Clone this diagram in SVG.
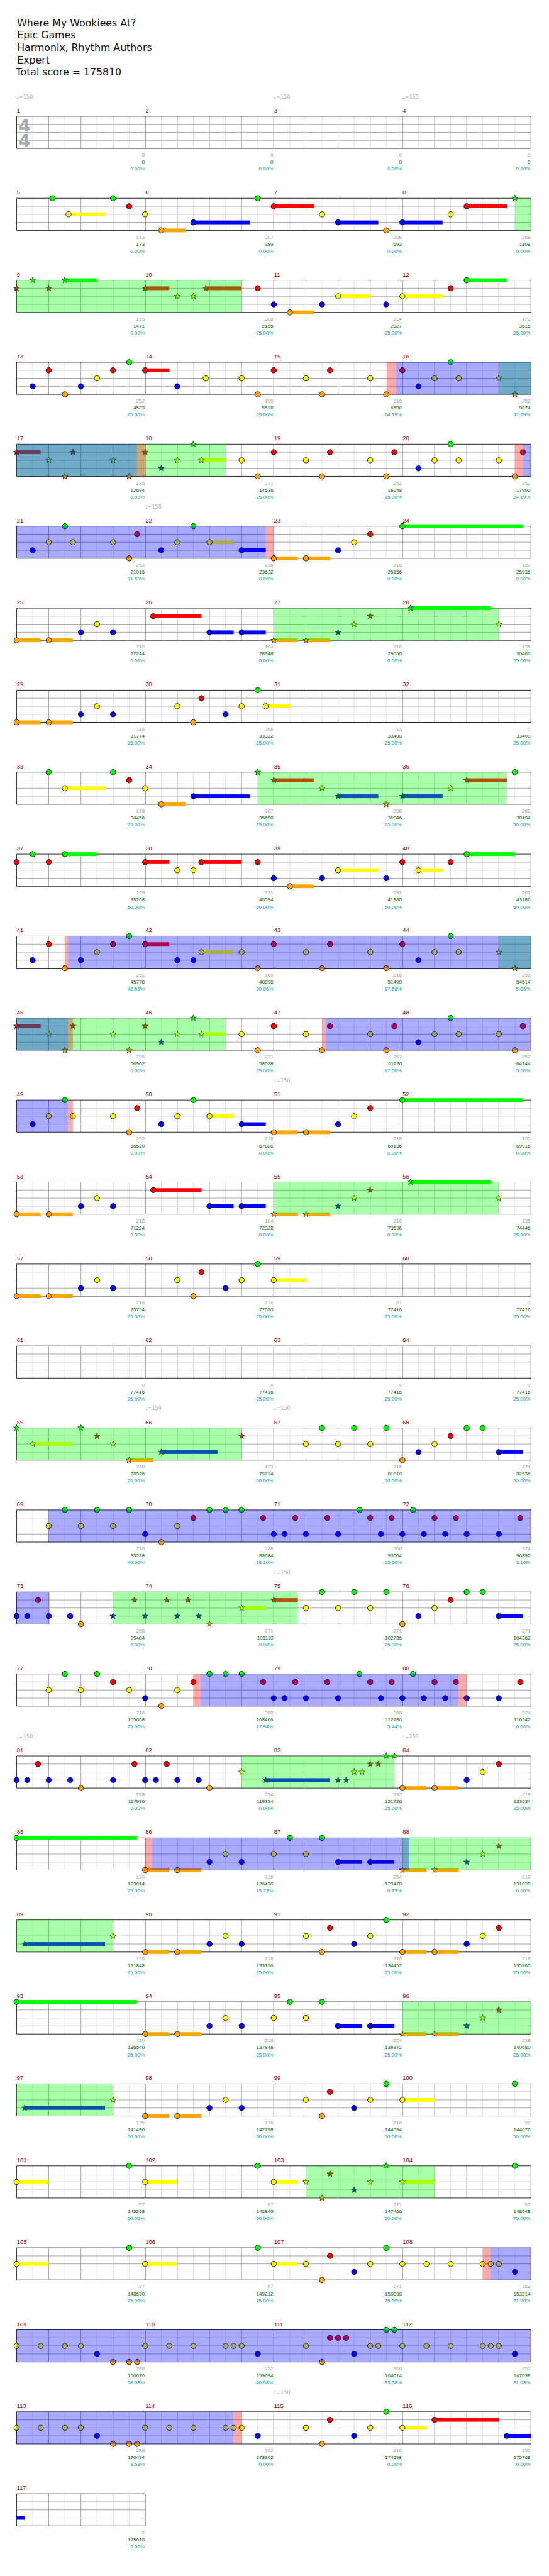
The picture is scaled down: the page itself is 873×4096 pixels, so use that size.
<svg xmlns="http://www.w3.org/2000/svg" width="873" height="4096" viewBox="0 0 873 4096">
<style>
text{font-family:"DejaVu Sans","Liberation Sans",sans-serif}
.h{font-size:18.5px;fill:#111}
.n{font-size:11px;fill:#900;font-family:"Liberation Sans",sans-serif}
.a,.b,.c{font-size:9.5px;text-anchor:end;font-family:"Liberation Sans",sans-serif}
.a{fill:#a0a0a0}.b{fill:#006400}.c{fill:#009b9b}
.t{font-size:9.5px;fill:#aaa}
.ts{font-size:31px;font-weight:bold;fill:#aaa}
.od{fill:#0f0;fill-opacity:.333}
.so{fill:#00f;fill-opacity:.333}
.rd{fill:#f00;fill-opacity:.333}
.kG{fill:#0f0}.kR{fill:#f00}.kY{fill:#ff0}.kB{fill:#00f}.kO{fill:#ffa500}
</style>
<defs>
<g id="ms">
<path d="M30 0V60M90 0V60M150 0V60M210 0V60" stroke="#ddd"/>
<path d="M60 0V60M120 0V60M180 0V60M0 15H240M0 30H240M0 45H240" stroke="#999"/>
<path d="M0 0H240M0 60H240M0 0V60" stroke="#000"/>
</g>
<g id="st4"><use href="#ms" x="31"/><use href="#ms" x="271"/><use href="#ms" x="511"/><use href="#ms" x="751"/><path d="M991 0V60" stroke="#000"/></g>
<circle id="G" r="5" fill="#0f0" stroke="#000"/>
<circle id="R" r="5" fill="#f00" stroke="#000"/>
<circle id="Y" r="5" fill="#ff0" stroke="#000"/>
<circle id="B" r="5" fill="#00f" stroke="#000"/>
<circle id="O" r="5" fill="#ffa500" stroke="#000"/>
<path id="st" d="M0-6L1.5-2 5.7-1.9 2.4.8 3.5 4.9 0 2.5-3.5 4.9-2.4.8-5.7-1.9-1.5-2Z" stroke="#000" stroke-width=".8"/>
<use id="sG" href="#st" fill="#0f0"/>
<use id="sR" href="#st" fill="#f00"/>
<use id="sY" href="#st" fill="#ff0"/>
<use id="sB" href="#st" fill="#00f"/>
<use id="sO" href="#st" fill="#ffa500"/>
</defs>
<g transform="scale(0.852)">
<rect x="0" y="0" width="1024" height="4807" fill="#fff"/>
<g id="header">
<text class="h" x="32" y="49">Where My Wookiees At?</text>
<text class="h" x="32" y="72">Epic Games</text>
<text class="h" x="32" y="95">Harmonix, Rhythm Authors</text>
<text class="h" x="32" y="118">Expert</text>
<text class="h" x="30" y="141">Total score = 175810</text>
</g>

<g id="row-1-4" transform="translate(0,217)">
<use href="#st4"/>
<text class="ts" x="35" y="28">4</text><text class="ts" x="35" y="57">4</text>
<text class="t" x="31" y="-33">♩=150</text><text class="t" x="511" y="-33">♩=150</text><text class="t" x="751" y="-33">♩=150</text>
<text class="n" x="31.5" y="-7">1</text><text class="n" x="271.5" y="-7">2</text><text class="n" x="511.5" y="-7">3</text><text class="n" x="751.5" y="-7">4</text>
<text class="a" x="270" y="75.5">0</text><text class="b" x="270" y="88.5">0</text><text class="c" x="270" y="101.5">0.00%</text>
<text class="a" x="510" y="75.5">0</text><text class="b" x="510" y="88.5">0</text><text class="c" x="510" y="101.5">0.00%</text>
<text class="a" x="750" y="75.5">0</text><text class="b" x="750" y="88.5">0</text><text class="c" x="750" y="101.5">0.00%</text>
<text class="a" x="990" y="75.5">0</text><text class="b" x="990" y="88.5">0</text><text class="c" x="990" y="101.5">0.00%</text>
</g>

<g id="row-5-8" transform="translate(0,370)">
<use href="#st4"/>
<rect class="kY" x="128" y="26.5" width="68" height="7"/><rect class="kO" x="301" y="56.5" width="45" height="7"/><rect class="kB" x="361" y="41.5" width="105" height="7"/><rect class="kR" x="511" y="11.5" width="75" height="7"/><rect class="kB" x="631" y="41.5" width="75" height="7"/><rect class="kB" x="751" y="41.5" width="75" height="7"/><rect class="kR" x="871" y="11.5" width="75" height="7"/>
<use href="#G" x="98" y="0"/><use href="#Y" x="128" y="30"/><use href="#G" x="211" y="0"/><use href="#R" x="241" y="15"/><use href="#Y" x="271" y="30"/><use href="#O" x="301" y="60"/><use href="#B" x="361" y="45"/><use href="#G" x="481" y="0"/><use href="#R" x="511" y="15"/><use href="#Y" x="601" y="30"/><use href="#B" x="631" y="45"/><use href="#O" x="721" y="60"/><use href="#B" x="751" y="45"/><use href="#Y" x="841" y="30"/><use href="#R" x="871" y="15"/><use href="#sG" x="961" y="0"/>
<rect class="od" x="961" y="0" width="30" height="60"/>
<text class="n" x="31.5" y="-7">5</text><text class="n" x="271.5" y="-7">6</text><text class="n" x="511.5" y="-7">7</text><text class="n" x="751.5" y="-7">8</text>
<text class="a" x="270" y="75.5">173</text><text class="b" x="270" y="88.5">173</text><text class="c" x="270" y="101.5">0.00%</text>
<text class="a" x="510" y="75.5">207</text><text class="b" x="510" y="88.5">380</text><text class="c" x="510" y="101.5">0.00%</text>
<text class="a" x="750" y="75.5">208</text><text class="b" x="750" y="88.5">692</text><text class="c" x="750" y="101.5">0.00%</text>
<text class="a" x="990" y="75.5">208</text><text class="b" x="990" y="88.5">1108</text><text class="c" x="990" y="101.5">0.00%</text>
</g>

<g id="row-9-12" transform="translate(0,523)">
<use href="#st4"/>
<rect class="kG" x="121" y="-3.5" width="60" height="7"/><rect class="kR" x="271" y="11.5" width="45" height="7"/><rect class="kR" x="384" y="11.5" width="67" height="7"/><rect class="kO" x="541" y="56.5" width="45" height="7"/><rect class="kY" x="631" y="26.5" width="60" height="7"/><rect class="kY" x="751" y="26.5" width="75" height="7"/><rect class="kG" x="871" y="-3.5" width="75" height="7"/>
<use href="#sR" x="31" y="15"/><use href="#sG" x="61" y="0"/><use href="#sR" x="91" y="15"/><use href="#sG" x="121" y="0"/><use href="#sR" x="271" y="15"/><use href="#sY" x="331" y="30"/><use href="#sY" x="361" y="30"/><use href="#sR" x="384" y="15"/><use href="#R" x="481" y="15"/><use href="#B" x="511" y="45"/><use href="#O" x="541" y="60"/><use href="#B" x="601" y="45"/><use href="#Y" x="631" y="30"/><use href="#B" x="721" y="45"/><use href="#Y" x="751" y="30"/><use href="#R" x="841" y="15"/><use href="#G" x="871" y="0"/>
<rect class="od" x="31" y="0" width="420" height="60"/>
<text class="n" x="31.5" y="-7">9</text><text class="n" x="271.5" y="-7">10</text><text class="n" x="511.5" y="-7">11</text><text class="n" x="751.5" y="-7">12</text>
<text class="a" x="270" y="75.5">169</text><text class="b" x="270" y="88.5">1471</text><text class="c" x="270" y="101.5">0.00%</text>
<text class="a" x="510" y="75.5">228</text><text class="b" x="510" y="88.5">2155</text><text class="c" x="510" y="101.5">25.00%</text>
<text class="a" x="750" y="75.5">224</text><text class="b" x="750" y="88.5">2827</text><text class="c" x="750" y="101.5">25.00%</text>
<text class="a" x="990" y="75.5">172</text><text class="b" x="990" y="88.5">3515</text><text class="c" x="990" y="101.5">25.00%</text>
</g>

<g id="row-13-16" transform="translate(0,676)">
<use href="#st4"/>
<rect class="kR" x="271" y="11.5" width="45" height="7"/>
<use href="#B" x="61" y="45"/><use href="#R" x="91" y="15"/><use href="#O" x="121" y="60"/><use href="#B" x="151" y="45"/><use href="#Y" x="181" y="30"/><use href="#R" x="211" y="15"/><use href="#G" x="241" y="0"/><use href="#R" x="271" y="15"/><use href="#B" x="331" y="45"/><use href="#Y" x="384" y="30"/><use href="#Y" x="451" y="30"/><use href="#O" x="481" y="60"/><use href="#R" x="511" y="15"/><use href="#Y" x="571" y="30"/><use href="#O" x="601" y="60"/><use href="#R" x="616" y="15"/><use href="#Y" x="691" y="30"/><use href="#O" x="721" y="60"/><use href="#R" x="751" y="15"/><use href="#B" x="781" y="45"/><use href="#Y" x="811" y="30"/><use href="#G" x="841" y="0"/><use href="#Y" x="856" y="30"/><use href="#sY" x="931" y="30"/><use href="#sO" x="961" y="60"/>
<rect class="od" x="931" y="0" width="60" height="60"/><rect class="so" x="739" y="0" width="252" height="60"/><rect class="rd" x="723" y="0" width="16" height="60"/>
<text class="n" x="31.5" y="-7">13</text><text class="n" x="271.5" y="-7">14</text><text class="n" x="511.5" y="-7">15</text><text class="n" x="751.5" y="-7">16</text>
<text class="a" x="270" y="75.5">252</text><text class="b" x="270" y="88.5">4523</text><text class="c" x="270" y="101.5">25.00%</text>
<text class="a" x="510" y="75.5">199</text><text class="b" x="510" y="88.5">5518</text><text class="c" x="510" y="101.5">25.00%</text>
<text class="a" x="750" y="75.5">216</text><text class="b" x="750" y="88.5">6598</text><text class="c" x="750" y="101.5">24.19%</text>
<text class="a" x="990" y="75.5">252</text><text class="b" x="990" y="88.5">9874</text><text class="c" x="990" y="101.5">11.69%</text>
</g>

<g id="row-17-20" transform="translate(0,829)">
<use href="#st4"/>
<rect class="kR" x="31" y="11.5" width="45" height="7"/><rect class="kY" x="376" y="26.5" width="45" height="7"/>
<use href="#sR" x="31" y="15"/><use href="#sY" x="91" y="30"/><use href="#sO" x="121" y="60"/><use href="#sR" x="136" y="15"/><use href="#sY" x="211" y="30"/><use href="#sO" x="241" y="60"/><use href="#sR" x="271" y="15"/><use href="#sB" x="301" y="45"/><use href="#sY" x="331" y="30"/><use href="#sG" x="361" y="0"/><use href="#sY" x="376" y="30"/><use href="#Y" x="451" y="30"/><use href="#O" x="481" y="60"/><use href="#R" x="511" y="15"/><use href="#Y" x="571" y="30"/><use href="#O" x="601" y="60"/><use href="#R" x="616" y="15"/><use href="#Y" x="691" y="30"/><use href="#O" x="721" y="60"/><use href="#R" x="736" y="15"/><use href="#B" x="781" y="45"/><use href="#Y" x="811" y="30"/><use href="#G" x="841" y="0"/><use href="#Y" x="856" y="30"/><use href="#Y" x="931" y="30"/><use href="#O" x="961" y="60"/><use href="#R" x="976" y="15"/>
<rect class="od" x="31" y="0" width="390" height="60"/><rect class="so" x="31" y="0" width="225" height="60"/><rect class="rd" x="256" y="0" width="15" height="60"/><rect class="rd" x="961" y="0" width="15" height="60"/><rect class="so" x="976" y="0" width="15" height="60"/>
<text class="n" x="31.5" y="-7">17</text><text class="n" x="271.5" y="-7">18</text><text class="n" x="511.5" y="-7">19</text><text class="n" x="751.5" y="-7">20</text>
<text class="a" x="270" y="75.5">235</text><text class="b" x="270" y="88.5">12694</text><text class="c" x="270" y="101.5">0.00%</text>
<text class="a" x="510" y="75.5">271</text><text class="b" x="510" y="88.5">14536</text><text class="c" x="510" y="101.5">25.00%</text>
<text class="a" x="750" y="75.5">252</text><text class="b" x="750" y="88.5">16048</text><text class="c" x="750" y="101.5">25.00%</text>
<text class="a" x="990" y="75.5">252</text><text class="b" x="990" y="88.5">17992</text><text class="c" x="990" y="101.5">24.19%</text>
</g>

<g id="row-21-24" transform="translate(0,982)">
<use href="#st4"/>
<text class="t" x="271" y="-33">♩=150</text>
<rect class="kY" x="391" y="26.5" width="45" height="7"/><rect class="kB" x="451" y="41.5" width="45" height="7"/><rect class="kO" x="511" y="56.5" width="45" height="7"/><rect class="kO" x="571" y="56.5" width="45" height="7"/><rect class="kG" x="751" y="-3.5" width="225" height="7"/>
<use href="#B" x="61" y="45"/><use href="#Y" x="91" y="30"/><use href="#G" x="121" y="0"/><use href="#Y" x="136" y="30"/><use href="#Y" x="211" y="30"/><use href="#O" x="241" y="60"/><use href="#R" x="256" y="15"/><use href="#B" x="301" y="45"/><use href="#Y" x="331" y="30"/><use href="#G" x="361" y="0"/><use href="#Y" x="391" y="30"/><use href="#B" x="451" y="45"/><use href="#O" x="511" y="60"/><use href="#O" x="571" y="60"/><use href="#B" x="631" y="45"/><use href="#Y" x="661" y="30"/><use href="#R" x="691" y="15"/><use href="#G" x="751" y="0"/>
<rect class="so" x="31" y="0" width="465" height="60"/><rect class="rd" x="496" y="0" width="15" height="60"/>
<text class="n" x="31.5" y="-7">21</text><text class="n" x="271.5" y="-7">22</text><text class="n" x="511.5" y="-7">23</text><text class="n" x="751.5" y="-7">24</text>
<text class="a" x="270" y="75.5">252</text><text class="b" x="270" y="88.5">21016</text><text class="c" x="270" y="101.5">11.69%</text>
<text class="a" x="510" y="75.5">218</text><text class="b" x="510" y="88.5">23632</text><text class="c" x="510" y="101.5">0.00%</text>
<text class="a" x="750" y="75.5">218</text><text class="b" x="750" y="88.5">25156</text><text class="c" x="750" y="101.5">0.00%</text>
<text class="a" x="990" y="75.5">130</text><text class="b" x="990" y="88.5">25936</text><text class="c" x="990" y="101.5">0.00%</text>
</g>

<g id="row-25-28" transform="translate(0,1135)">
<use href="#st4"/>
<rect class="kO" x="31" y="56.5" width="45" height="7"/><rect class="kO" x="91" y="56.5" width="45" height="7"/><rect class="kR" x="286" y="11.5" width="90" height="7"/><rect class="kB" x="391" y="41.5" width="45" height="7"/><rect class="kB" x="451" y="41.5" width="45" height="7"/><rect class="kO" x="511" y="56.5" width="45" height="7"/><rect class="kO" x="571" y="56.5" width="45" height="7"/><rect class="kG" x="766" y="-3.5" width="150" height="7"/>
<use href="#O" x="31" y="60"/><use href="#O" x="91" y="60"/><use href="#B" x="151" y="45"/><use href="#Y" x="181" y="30"/><use href="#B" x="211" y="45"/><use href="#R" x="286" y="15"/><use href="#B" x="391" y="45"/><use href="#B" x="451" y="45"/><use href="#sO" x="511" y="60"/><use href="#sO" x="571" y="60"/><use href="#sB" x="631" y="45"/><use href="#sY" x="661" y="30"/><use href="#sR" x="691" y="15"/><use href="#sG" x="766" y="0"/><use href="#sY" x="931" y="30"/>
<rect class="od" x="511" y="0" width="420" height="60"/>
<text class="n" x="31.5" y="-7">25</text><text class="n" x="271.5" y="-7">26</text><text class="n" x="511.5" y="-7">27</text><text class="n" x="751.5" y="-7">28</text>
<text class="a" x="270" y="75.5">218</text><text class="b" x="270" y="88.5">27244</text><text class="c" x="270" y="101.5">0.00%</text>
<text class="a" x="510" y="75.5">184</text><text class="b" x="510" y="88.5">28348</text><text class="c" x="510" y="101.5">0.00%</text>
<text class="a" x="750" y="75.5">218</text><text class="b" x="750" y="88.5">29656</text><text class="c" x="750" y="101.5">0.00%</text>
<text class="a" x="990" y="75.5">135</text><text class="b" x="990" y="88.5">30466</text><text class="c" x="990" y="101.5">25.00%</text>
</g>

<g id="row-29-32" transform="translate(0,1288)">
<use href="#st4"/>
<rect class="kO" x="31" y="56.5" width="45" height="7"/><rect class="kO" x="91" y="56.5" width="45" height="7"/><rect class="kY" x="496" y="26.5" width="45" height="7"/>
<use href="#O" x="31" y="60"/><use href="#O" x="91" y="60"/><use href="#B" x="151" y="45"/><use href="#Y" x="181" y="30"/><use href="#B" x="211" y="45"/><use href="#Y" x="331" y="30"/><use href="#O" x="361" y="60"/><use href="#R" x="376" y="15"/><use href="#B" x="421" y="45"/><use href="#Y" x="451" y="30"/><use href="#G" x="481" y="0"/><use href="#Y" x="496" y="30"/>
<text class="n" x="31.5" y="-7">29</text><text class="n" x="271.5" y="-7">30</text><text class="n" x="511.5" y="-7">31</text><text class="n" x="751.5" y="-7">32</text>
<text class="a" x="270" y="75.5">218</text><text class="b" x="270" y="88.5">31774</text><text class="c" x="270" y="101.5">25.00%</text>
<text class="a" x="510" y="75.5">258</text><text class="b" x="510" y="88.5">33322</text><text class="c" x="510" y="101.5">25.00%</text>
<text class="a" x="750" y="75.5">13</text><text class="b" x="750" y="88.5">33400</text><text class="c" x="750" y="101.5">25.00%</text>
<text class="a" x="990" y="75.5">0</text><text class="b" x="990" y="88.5">33400</text><text class="c" x="990" y="101.5">25.00%</text>
</g>

<g id="row-33-36" transform="translate(0,1441)">
<use href="#st4"/>
<rect class="kY" x="121" y="26.5" width="75" height="7"/><rect class="kO" x="301" y="56.5" width="45" height="7"/><rect class="kB" x="361" y="41.5" width="105" height="7"/><rect class="kR" x="511" y="11.5" width="75" height="7"/><rect class="kB" x="631" y="41.5" width="75" height="7"/><rect class="kB" x="751" y="41.5" width="75" height="7"/><rect class="kR" x="871" y="11.5" width="75" height="7"/>
<use href="#G" x="91" y="0"/><use href="#Y" x="121" y="30"/><use href="#G" x="211" y="0"/><use href="#R" x="241" y="15"/><use href="#Y" x="271" y="30"/><use href="#O" x="301" y="60"/><use href="#B" x="361" y="45"/><use href="#sG" x="481" y="0"/><use href="#sR" x="511" y="15"/><use href="#sY" x="601" y="30"/><use href="#sB" x="631" y="45"/><use href="#sO" x="721" y="60"/><use href="#sB" x="751" y="45"/><use href="#sY" x="841" y="30"/><use href="#sR" x="871" y="15"/><use href="#G" x="961" y="0"/>
<rect class="od" x="481" y="0" width="465" height="60"/>
<text class="n" x="31.5" y="-7">33</text><text class="n" x="271.5" y="-7">34</text><text class="n" x="511.5" y="-7">35</text><text class="n" x="751.5" y="-7">36</text>
<text class="a" x="270" y="75.5">176</text><text class="b" x="270" y="88.5">34456</text><text class="c" x="270" y="101.5">25.00%</text>
<text class="a" x="510" y="75.5">207</text><text class="b" x="510" y="88.5">35698</text><text class="c" x="510" y="101.5">25.00%</text>
<text class="a" x="750" y="75.5">208</text><text class="b" x="750" y="88.5">36946</text><text class="c" x="750" y="101.5">25.00%</text>
<text class="a" x="990" y="75.5">208</text><text class="b" x="990" y="88.5">38194</text><text class="c" x="990" y="101.5">50.00%</text>
</g>

<g id="row-37-40" transform="translate(0,1594)">
<use href="#st4"/>
<rect class="kG" x="121" y="-3.5" width="60" height="7"/><rect class="kR" x="271" y="11.5" width="45" height="7"/><rect class="kR" x="376" y="11.5" width="75" height="7"/><rect class="kO" x="541" y="56.5" width="45" height="7"/><rect class="kY" x="631" y="26.5" width="75" height="7"/><rect class="kY" x="781" y="26.5" width="45" height="7"/><rect class="kG" x="871" y="-3.5" width="90" height="7"/>
<use href="#R" x="31" y="15"/><use href="#G" x="61" y="0"/><use href="#R" x="91" y="15"/><use href="#G" x="121" y="0"/><use href="#R" x="271" y="15"/><use href="#Y" x="331" y="30"/><use href="#Y" x="361" y="30"/><use href="#R" x="376" y="15"/><use href="#R" x="481" y="15"/><use href="#B" x="511" y="45"/><use href="#O" x="541" y="60"/><use href="#B" x="601" y="45"/><use href="#Y" x="631" y="30"/><use href="#B" x="721" y="45"/><use href="#R" x="751" y="15"/><use href="#Y" x="781" y="30"/><use href="#R" x="841" y="15"/><use href="#G" x="871" y="0"/>
<text class="n" x="31.5" y="-7">37</text><text class="n" x="271.5" y="-7">38</text><text class="n" x="511.5" y="-7">39</text><text class="n" x="751.5" y="-7">40</text>
<text class="a" x="270" y="75.5">169</text><text class="b" x="270" y="88.5">39208</text><text class="c" x="270" y="101.5">50.00%</text>
<text class="a" x="510" y="75.5">231</text><text class="b" x="510" y="88.5">40594</text><text class="c" x="510" y="101.5">50.00%</text>
<text class="a" x="750" y="75.5">231</text><text class="b" x="750" y="88.5">41980</text><text class="c" x="750" y="101.5">50.00%</text>
<text class="a" x="990" y="75.5">201</text><text class="b" x="990" y="88.5">43186</text><text class="c" x="990" y="101.5">50.00%</text>
</g>

<g id="row-41-44" transform="translate(0,1747)">
<use href="#st4"/>
<rect class="kR" x="271" y="11.5" width="45" height="7"/><rect class="kY" x="376" y="26.5" width="60" height="7"/>
<use href="#B" x="61" y="45"/><use href="#R" x="91" y="15"/><use href="#O" x="121" y="60"/><use href="#B" x="151" y="45"/><use href="#Y" x="181" y="30"/><use href="#R" x="211" y="15"/><use href="#G" x="241" y="0"/><use href="#R" x="271" y="15"/><use href="#B" x="331" y="45"/><use href="#B" x="361" y="45"/><use href="#Y" x="376" y="30"/><use href="#Y" x="451" y="30"/><use href="#O" x="481" y="60"/><use href="#R" x="511" y="15"/><use href="#Y" x="571" y="30"/><use href="#O" x="601" y="60"/><use href="#R" x="616" y="15"/><use href="#Y" x="691" y="30"/><use href="#O" x="721" y="60"/><use href="#R" x="751" y="15"/><use href="#B" x="781" y="45"/><use href="#Y" x="811" y="30"/><use href="#G" x="841" y="0"/><use href="#Y" x="856" y="30"/><use href="#sY" x="931" y="30"/><use href="#sO" x="961" y="60"/>
<rect class="od" x="931" y="0" width="60" height="60"/><rect class="so" x="127" y="0" width="864" height="60"/><rect class="rd" x="121" y="0" width="6" height="60"/>
<text class="n" x="31.5" y="-7">41</text><text class="n" x="271.5" y="-7">42</text><text class="n" x="511.5" y="-7">43</text><text class="n" x="751.5" y="-7">44</text>
<text class="a" x="270" y="75.5">252</text><text class="b" x="270" y="88.5">45778</text><text class="c" x="270" y="101.5">42.56%</text>
<text class="a" x="510" y="75.5">260</text><text class="b" x="510" y="88.5">48898</text><text class="c" x="510" y="101.5">30.06%</text>
<text class="a" x="750" y="75.5">216</text><text class="b" x="750" y="88.5">51490</text><text class="c" x="750" y="101.5">17.56%</text>
<text class="a" x="990" y="75.5">252</text><text class="b" x="990" y="88.5">54514</text><text class="c" x="990" y="101.5">5.06%</text>
</g>

<g id="row-45-48" transform="translate(0,1900)">
<use href="#st4"/>
<rect class="kR" x="31" y="11.5" width="45" height="7"/><rect class="kY" x="376" y="26.5" width="45" height="7"/>
<use href="#sR" x="31" y="15"/><use href="#sY" x="91" y="30"/><use href="#sO" x="121" y="60"/><use href="#sR" x="136" y="15"/><use href="#sY" x="211" y="30"/><use href="#sO" x="241" y="60"/><use href="#sR" x="271" y="15"/><use href="#sB" x="301" y="45"/><use href="#sY" x="331" y="30"/><use href="#sG" x="361" y="0"/><use href="#sY" x="376" y="30"/><use href="#Y" x="451" y="30"/><use href="#O" x="481" y="60"/><use href="#R" x="511" y="15"/><use href="#Y" x="571" y="30"/><use href="#O" x="601" y="60"/><use href="#R" x="616" y="15"/><use href="#Y" x="691" y="30"/><use href="#O" x="721" y="60"/><use href="#R" x="736" y="15"/><use href="#B" x="781" y="45"/><use href="#Y" x="811" y="30"/><use href="#G" x="841" y="0"/><use href="#Y" x="856" y="30"/><use href="#Y" x="931" y="30"/><use href="#O" x="961" y="60"/><use href="#R" x="976" y="15"/>
<rect class="od" x="31" y="0" width="390" height="60"/><rect class="so" x="31" y="0" width="96" height="60"/><rect class="rd" x="127" y="0" width="9" height="60"/><rect class="rd" x="601" y="0" width="7" height="60"/><rect class="so" x="608" y="0" width="383" height="60"/>
<text class="n" x="31.5" y="-7">45</text><text class="n" x="271.5" y="-7">46</text><text class="n" x="511.5" y="-7">47</text><text class="n" x="751.5" y="-7">48</text>
<text class="a" x="270" y="75.5">235</text><text class="b" x="270" y="88.5">56902</text><text class="c" x="270" y="101.5">0.00%</text>
<text class="a" x="510" y="75.5">271</text><text class="b" x="510" y="88.5">58528</text><text class="c" x="510" y="101.5">25.00%</text>
<text class="a" x="750" y="75.5">252</text><text class="b" x="750" y="88.5">61120</text><text class="c" x="750" y="101.5">17.56%</text>
<text class="a" x="990" y="75.5">252</text><text class="b" x="990" y="88.5">64144</text><text class="c" x="990" y="101.5">5.06%</text>
</g>

<g id="row-49-52" transform="translate(0,2053)">
<use href="#st4"/>
<text class="t" x="511" y="-33">♩=150</text>
<rect class="kY" x="391" y="26.5" width="45" height="7"/><rect class="kB" x="451" y="41.5" width="45" height="7"/><rect class="kO" x="511" y="56.5" width="45" height="7"/><rect class="kO" x="571" y="56.5" width="45" height="7"/><rect class="kG" x="751" y="-3.5" width="225" height="7"/>
<use href="#B" x="61" y="45"/><use href="#Y" x="91" y="30"/><use href="#G" x="121" y="0"/><use href="#Y" x="136" y="30"/><use href="#Y" x="211" y="30"/><use href="#O" x="241" y="60"/><use href="#R" x="256" y="15"/><use href="#B" x="301" y="45"/><use href="#Y" x="331" y="30"/><use href="#G" x="361" y="0"/><use href="#Y" x="391" y="30"/><use href="#B" x="451" y="45"/><use href="#O" x="511" y="60"/><use href="#O" x="571" y="60"/><use href="#B" x="631" y="45"/><use href="#Y" x="661" y="30"/><use href="#R" x="691" y="15"/><use href="#G" x="751" y="0"/>
<rect class="so" x="31" y="0" width="96" height="60"/><rect class="rd" x="127" y="0" width="9" height="60"/>
<text class="n" x="31.5" y="-7">49</text><text class="n" x="271.5" y="-7">50</text><text class="n" x="511.5" y="-7">51</text><text class="n" x="751.5" y="-7">52</text>
<text class="a" x="270" y="75.5">252</text><text class="b" x="270" y="88.5">66520</text><text class="c" x="270" y="101.5">0.00%</text>
<text class="a" x="510" y="75.5">218</text><text class="b" x="510" y="88.5">67828</text><text class="c" x="510" y="101.5">0.00%</text>
<text class="a" x="750" y="75.5">218</text><text class="b" x="750" y="88.5">69136</text><text class="c" x="750" y="101.5">0.00%</text>
<text class="a" x="990" y="75.5">130</text><text class="b" x="990" y="88.5">69916</text><text class="c" x="990" y="101.5">0.00%</text>
</g>

<g id="row-53-56" transform="translate(0,2206)">
<use href="#st4"/>
<rect class="kO" x="31" y="56.5" width="45" height="7"/><rect class="kO" x="91" y="56.5" width="45" height="7"/><rect class="kR" x="286" y="11.5" width="90" height="7"/><rect class="kB" x="391" y="41.5" width="45" height="7"/><rect class="kB" x="451" y="41.5" width="45" height="7"/><rect class="kO" x="511" y="56.5" width="45" height="7"/><rect class="kO" x="571" y="56.5" width="45" height="7"/><rect class="kG" x="766" y="-3.5" width="150" height="7"/>
<use href="#O" x="31" y="60"/><use href="#O" x="91" y="60"/><use href="#B" x="151" y="45"/><use href="#Y" x="181" y="30"/><use href="#B" x="211" y="45"/><use href="#R" x="286" y="15"/><use href="#B" x="391" y="45"/><use href="#B" x="451" y="45"/><use href="#sO" x="511" y="60"/><use href="#sO" x="571" y="60"/><use href="#sB" x="631" y="45"/><use href="#sY" x="661" y="30"/><use href="#sR" x="691" y="15"/><use href="#sG" x="766" y="0"/><use href="#sY" x="931" y="30"/>
<rect class="od" x="511" y="0" width="420" height="60"/>
<text class="n" x="31.5" y="-7">53</text><text class="n" x="271.5" y="-7">54</text><text class="n" x="511.5" y="-7">55</text><text class="n" x="751.5" y="-7">56</text>
<text class="a" x="270" y="75.5">218</text><text class="b" x="270" y="88.5">71224</text><text class="c" x="270" y="101.5">0.00%</text>
<text class="a" x="510" y="75.5">184</text><text class="b" x="510" y="88.5">72328</text><text class="c" x="510" y="101.5">0.00%</text>
<text class="a" x="750" y="75.5">218</text><text class="b" x="750" y="88.5">73636</text><text class="c" x="750" y="101.5">0.00%</text>
<text class="a" x="990" y="75.5">135</text><text class="b" x="990" y="88.5">74446</text><text class="c" x="990" y="101.5">25.00%</text>
</g>

<g id="row-57-60" transform="translate(0,2359)">
<use href="#st4"/>
<rect class="kO" x="31" y="56.5" width="45" height="7"/><rect class="kO" x="91" y="56.5" width="45" height="7"/><rect class="kY" x="511" y="26.5" width="60" height="7"/>
<use href="#O" x="31" y="60"/><use href="#O" x="91" y="60"/><use href="#B" x="151" y="45"/><use href="#Y" x="181" y="30"/><use href="#B" x="211" y="45"/><use href="#Y" x="331" y="30"/><use href="#O" x="361" y="60"/><use href="#R" x="376" y="15"/><use href="#B" x="421" y="45"/><use href="#Y" x="451" y="30"/><use href="#G" x="481" y="0"/><use href="#Y" x="511" y="30"/>
<text class="n" x="31.5" y="-7">57</text><text class="n" x="271.5" y="-7">58</text><text class="n" x="511.5" y="-7">59</text><text class="n" x="751.5" y="-7">60</text>
<text class="a" x="270" y="75.5">218</text><text class="b" x="270" y="88.5">75754</text><text class="c" x="270" y="101.5">25.00%</text>
<text class="a" x="510" y="75.5">216</text><text class="b" x="510" y="88.5">77050</text><text class="c" x="510" y="101.5">25.00%</text>
<text class="a" x="750" y="75.5">61</text><text class="b" x="750" y="88.5">77416</text><text class="c" x="750" y="101.5">25.00%</text>
<text class="a" x="990" y="75.5">0</text><text class="b" x="990" y="88.5">77416</text><text class="c" x="990" y="101.5">25.00%</text>
</g>

<g id="row-61-64" transform="translate(0,2512)">
<use href="#st4"/>
<text class="n" x="31.5" y="-7">61</text><text class="n" x="271.5" y="-7">62</text><text class="n" x="511.5" y="-7">63</text><text class="n" x="751.5" y="-7">64</text>
<text class="a" x="270" y="75.5">0</text><text class="b" x="270" y="88.5">77416</text><text class="c" x="270" y="101.5">25.00%</text>
<text class="a" x="510" y="75.5">0</text><text class="b" x="510" y="88.5">77416</text><text class="c" x="510" y="101.5">25.00%</text>
<text class="a" x="750" y="75.5">0</text><text class="b" x="750" y="88.5">77416</text><text class="c" x="750" y="101.5">25.00%</text>
<text class="a" x="990" y="75.5">0</text><text class="b" x="990" y="88.5">77416</text><text class="c" x="990" y="101.5">25.00%</text>
</g>

<g id="row-65-68" transform="translate(0,2665)">
<use href="#st4"/>
<text class="t" x="271" y="-33">♩=150</text><text class="t" x="511" y="-33">♩=150</text>
<rect class="kY" x="61" y="26.5" width="75" height="7"/><rect class="kO" x="241" y="56.5" width="45" height="7"/><rect class="kB" x="301" y="41.5" width="105" height="7"/><rect class="kB" x="931" y="41.5" width="45" height="7"/>
<use href="#sG" x="31" y="0"/><use href="#sY" x="61" y="30"/><use href="#sG" x="151" y="0"/><use href="#sR" x="181" y="15"/><use href="#sY" x="211" y="30"/><use href="#sO" x="241" y="60"/><use href="#sB" x="301" y="45"/><use href="#sR" x="451" y="15"/><use href="#Y" x="571" y="30"/><use href="#G" x="601" y="0"/><use href="#Y" x="631" y="30"/><use href="#G" x="661" y="0"/><use href="#Y" x="691" y="30"/><use href="#G" x="721" y="0"/><use href="#O" x="751" y="60"/><use href="#B" x="781" y="45"/><use href="#Y" x="811" y="30"/><use href="#R" x="841" y="15"/><use href="#G" x="871" y="0"/><use href="#G" x="901" y="0"/><use href="#B" x="931" y="45"/>
<rect class="od" x="31" y="0" width="420" height="60"/>
<text class="n" x="31.5" y="-7">65</text><text class="n" x="271.5" y="-7">66</text><text class="n" x="511.5" y="-7">67</text><text class="n" x="751.5" y="-7">68</text>
<text class="a" x="270" y="75.5">260</text><text class="b" x="270" y="88.5">78976</text><text class="c" x="270" y="101.5">25.00%</text>
<text class="a" x="510" y="75.5">123</text><text class="b" x="510" y="88.5">79714</text><text class="c" x="510" y="101.5">50.00%</text>
<text class="a" x="750" y="75.5">216</text><text class="b" x="750" y="88.5">81010</text><text class="c" x="750" y="101.5">50.00%</text>
<text class="a" x="990" y="75.5">271</text><text class="b" x="990" y="88.5">82636</text><text class="c" x="990" y="101.5">50.00%</text>
</g>

<g id="row-69-72" transform="translate(0,2818)">
<use href="#st4"/>
<use href="#Y" x="91" y="30"/><use href="#G" x="121" y="0"/><use href="#Y" x="151" y="30"/><use href="#G" x="181" y="0"/><use href="#Y" x="211" y="30"/><use href="#G" x="241" y="0"/><use href="#B" x="271" y="45"/><use href="#O" x="301" y="60"/><use href="#Y" x="331" y="30"/><use href="#R" x="361" y="15"/><use href="#G" x="391" y="0"/><use href="#G" x="421" y="0"/><use href="#G" x="451" y="0"/><use href="#R" x="491" y="15"/><use href="#B" x="511" y="45"/><use href="#B" x="531" y="45"/><use href="#R" x="551" y="15"/><use href="#B" x="571" y="45"/><use href="#R" x="611" y="15"/><use href="#B" x="631" y="45"/><use href="#G" x="671" y="0"/><use href="#R" x="691" y="15"/><use href="#B" x="711" y="45"/><use href="#R" x="731" y="15"/><use href="#B" x="751" y="45"/><use href="#G" x="771" y="0"/><use href="#B" x="791" y="45"/><use href="#R" x="811" y="15"/><use href="#B" x="831" y="45"/><use href="#R" x="851" y="15"/><use href="#B" x="871" y="45"/><use href="#B" x="931" y="45"/><use href="#R" x="971" y="15"/>
<rect class="so" x="91" y="0" width="900" height="60"/>
<text class="n" x="31.5" y="-7">69</text><text class="n" x="271.5" y="-7">70</text><text class="n" x="511.5" y="-7">71</text><text class="n" x="751.5" y="-7">72</text>
<text class="a" x="270" y="75.5">216</text><text class="b" x="270" y="88.5">85228</text><text class="c" x="270" y="101.5">40.60%</text>
<text class="a" x="510" y="75.5">288</text><text class="b" x="510" y="88.5">88684</text><text class="c" x="510" y="101.5">28.10%</text>
<text class="a" x="750" y="75.5">360</text><text class="b" x="750" y="88.5">93004</text><text class="c" x="750" y="101.5">15.60%</text>
<text class="a" x="990" y="75.5">324</text><text class="b" x="990" y="88.5">96892</text><text class="c" x="990" y="101.5">3.10%</text>
</g>

<g id="row-73-76" transform="translate(0,2971)">
<use href="#st4"/>
<text class="t" x="511" y="-33">♩=150</text>
<rect class="kY" x="451" y="26.5" width="45" height="7"/><rect class="kR" x="511" y="11.5" width="45" height="7"/><rect class="kB" x="931" y="41.5" width="45" height="7"/>
<use href="#B" x="31" y="45"/><use href="#B" x="51" y="45"/><use href="#R" x="71" y="15"/><use href="#B" x="91" y="45"/><use href="#B" x="131" y="45"/><use href="#O" x="151" y="60"/><use href="#sB" x="211" y="45"/><use href="#sR" x="251" y="15"/><use href="#sB" x="271" y="45"/><use href="#sR" x="311" y="15"/><use href="#sB" x="331" y="45"/><use href="#sR" x="351" y="15"/><use href="#sB" x="371" y="45"/><use href="#sO" x="391" y="60"/><use href="#sY" x="451" y="30"/><use href="#sR" x="511" y="15"/><use href="#Y" x="571" y="30"/><use href="#G" x="601" y="0"/><use href="#Y" x="631" y="30"/><use href="#G" x="661" y="0"/><use href="#Y" x="691" y="30"/><use href="#G" x="721" y="0"/><use href="#O" x="751" y="60"/><use href="#B" x="781" y="45"/><use href="#Y" x="811" y="30"/><use href="#R" x="841" y="15"/><use href="#G" x="871" y="0"/><use href="#G" x="901" y="0"/><use href="#B" x="931" y="45"/>
<rect class="od" x="211" y="0" width="345" height="60"/><rect class="so" x="31" y="0" width="60" height="60"/><rect class="rd" x="91" y="0" width="1.5" height="60"/>
<text class="n" x="31.5" y="-7">73</text><text class="n" x="271.5" y="-7">74</text><text class="n" x="511.5" y="-7">75</text><text class="n" x="751.5" y="-7">76</text>
<text class="a" x="270" y="75.5">288</text><text class="b" x="270" y="88.5">99484</text><text class="c" x="270" y="101.5">0.00%</text>
<text class="a" x="510" y="75.5">271</text><text class="b" x="510" y="88.5">101110</text><text class="c" x="510" y="101.5">0.00%</text>
<text class="a" x="750" y="75.5">271</text><text class="b" x="750" y="88.5">102736</text><text class="c" x="750" y="101.5">25.00%</text>
<text class="a" x="990" y="75.5">271</text><text class="b" x="990" y="88.5">104362</text><text class="c" x="990" y="101.5">25.00%</text>
</g>

<g id="row-77-80" transform="translate(0,3124)">
<use href="#st4"/>
<use href="#Y" x="91" y="30"/><use href="#G" x="121" y="0"/><use href="#Y" x="151" y="30"/><use href="#G" x="181" y="0"/><use href="#R" x="211" y="15"/><use href="#Y" x="241" y="30"/><use href="#B" x="271" y="45"/><use href="#O" x="301" y="60"/><use href="#Y" x="331" y="30"/><use href="#R" x="361" y="15"/><use href="#G" x="391" y="0"/><use href="#G" x="421" y="0"/><use href="#G" x="451" y="0"/><use href="#R" x="491" y="15"/><use href="#B" x="511" y="45"/><use href="#B" x="531" y="45"/><use href="#R" x="551" y="15"/><use href="#B" x="571" y="45"/><use href="#R" x="611" y="15"/><use href="#B" x="631" y="45"/><use href="#G" x="671" y="0"/><use href="#R" x="691" y="15"/><use href="#B" x="711" y="45"/><use href="#R" x="731" y="15"/><use href="#B" x="751" y="45"/><use href="#G" x="771" y="0"/><use href="#B" x="791" y="45"/><use href="#R" x="811" y="15"/><use href="#B" x="831" y="45"/><use href="#R" x="851" y="15"/><use href="#B" x="871" y="45"/><use href="#B" x="931" y="45"/><use href="#R" x="971" y="15"/>
<rect class="rd" x="361" y="0" width="13" height="60"/><rect class="so" x="374" y="0" width="482" height="60"/><rect class="rd" x="856" y="0" width="15" height="60"/>
<text class="n" x="31.5" y="-7">77</text><text class="n" x="271.5" y="-7">78</text><text class="n" x="511.5" y="-7">79</text><text class="n" x="751.5" y="-7">80</text>
<text class="a" x="270" y="75.5">216</text><text class="b" x="270" y="88.5">105658</text><text class="c" x="270" y="101.5">25.00%</text>
<text class="a" x="510" y="75.5">288</text><text class="b" x="510" y="88.5">108466</text><text class="c" x="510" y="101.5">17.94%</text>
<text class="a" x="750" y="75.5">360</text><text class="b" x="750" y="88.5">112786</text><text class="c" x="750" y="101.5">5.44%</text>
<text class="a" x="990" y="75.5">324</text><text class="b" x="990" y="88.5">116242</text><text class="c" x="990" y="101.5">0.00%</text>
</g>

<g id="row-81-84" transform="translate(0,3277)">
<use href="#st4"/>
<text class="t" x="31" y="-33">♩=150</text><text class="t" x="751" y="-33">♩=150</text>
<rect class="kB" x="496" y="41.5" width="120" height="7"/><rect class="kO" x="751" y="56.5" width="45" height="7"/><rect class="kO" x="811" y="56.5" width="45" height="7"/>
<use href="#B" x="31" y="45"/><use href="#B" x="51" y="45"/><use href="#R" x="71" y="15"/><use href="#B" x="91" y="45"/><use href="#B" x="131" y="45"/><use href="#O" x="151" y="60"/><use href="#B" x="211" y="45"/><use href="#R" x="251" y="15"/><use href="#B" x="271" y="45"/><use href="#B" x="291" y="45"/><use href="#R" x="311" y="15"/><use href="#B" x="331" y="45"/><use href="#B" x="371" y="45"/><use href="#O" x="391" y="60"/><use href="#sY" x="451" y="30"/><use href="#sB" x="496" y="45"/><use href="#sB" x="631" y="45"/><use href="#sB" x="646" y="45"/><use href="#sY" x="661" y="30"/><use href="#sY" x="676" y="30"/><use href="#sR" x="691" y="15"/><use href="#sR" x="706" y="15"/><use href="#sG" x="721" y="0"/><use href="#sG" x="736" y="0"/><use href="#O" x="751" y="60"/><use href="#O" x="811" y="60"/><use href="#B" x="871" y="45"/><use href="#Y" x="901" y="30"/><use href="#R" x="931" y="15"/>
<rect class="od" x="451" y="0" width="285" height="60"/>
<text class="n" x="31.5" y="-7">81</text><text class="n" x="271.5" y="-7">82</text><text class="n" x="511.5" y="-7">83</text><text class="n" x="751.5" y="-7">84</text>
<text class="a" x="270" y="75.5">288</text><text class="b" x="270" y="88.5">117970</text><text class="c" x="270" y="101.5">0.00%</text>
<text class="a" x="510" y="75.5">294</text><text class="b" x="510" y="88.5">119734</text><text class="c" x="510" y="101.5">0.00%</text>
<text class="a" x="750" y="75.5">332</text><text class="b" x="750" y="88.5">121726</text><text class="c" x="750" y="101.5">25.00%</text>
<text class="a" x="990" y="75.5">218</text><text class="b" x="990" y="88.5">123034</text><text class="c" x="990" y="101.5">25.00%</text>
</g>

<g id="row-85-88" transform="translate(0,3430)">
<use href="#st4"/>
<rect class="kG" x="31" y="-3.5" width="225" height="7"/><rect class="kO" x="271" y="56.5" width="45" height="7"/><rect class="kO" x="331" y="56.5" width="45" height="7"/><rect class="kB" x="631" y="41.5" width="45" height="7"/><rect class="kB" x="691" y="41.5" width="45" height="7"/><rect class="kO" x="751" y="56.5" width="45" height="7"/><rect class="kO" x="811" y="56.5" width="45" height="7"/>
<use href="#G" x="31" y="0"/><use href="#O" x="271" y="60"/><use href="#O" x="331" y="60"/><use href="#B" x="391" y="45"/><use href="#Y" x="421" y="30"/><use href="#B" x="451" y="45"/><use href="#Y" x="511" y="30"/><use href="#G" x="541" y="0"/><use href="#Y" x="571" y="30"/><use href="#G" x="601" y="0"/><use href="#B" x="631" y="45"/><use href="#B" x="691" y="45"/><use href="#sO" x="751" y="60"/><use href="#sO" x="811" y="60"/><use href="#sB" x="871" y="45"/><use href="#sY" x="901" y="30"/><use href="#sR" x="931" y="15"/>
<rect class="od" x="751" y="0" width="240" height="60"/><rect class="so" x="284" y="0" width="480" height="60"/><rect class="rd" x="271" y="0" width="13" height="60"/>
<text class="n" x="31.5" y="-7">85</text><text class="n" x="271.5" y="-7">86</text><text class="n" x="511.5" y="-7">87</text><text class="n" x="751.5" y="-7">88</text>
<text class="a" x="270" y="75.5">130</text><text class="b" x="270" y="88.5">123814</text><text class="c" x="270" y="101.5">25.00%</text>
<text class="a" x="510" y="75.5">218</text><text class="b" x="510" y="88.5">126430</text><text class="c" x="510" y="101.5">13.23%</text>
<text class="a" x="750" y="75.5">254</text><text class="b" x="750" y="88.5">129478</text><text class="c" x="750" y="101.5">0.73%</text>
<text class="a" x="990" y="75.5">218</text><text class="b" x="990" y="88.5">131038</text><text class="c" x="990" y="101.5">0.00%</text>
</g>

<g id="row-89-92" transform="translate(0,3583)">
<use href="#st4"/>
<rect class="kB" x="46" y="41.5" width="150" height="7"/><rect class="kO" x="271" y="56.5" width="45" height="7"/><rect class="kO" x="331" y="56.5" width="45" height="7"/><rect class="kO" x="751" y="56.5" width="45" height="7"/><rect class="kO" x="811" y="56.5" width="45" height="7"/>
<use href="#sB" x="46" y="45"/><use href="#sY" x="211" y="30"/><use href="#O" x="271" y="60"/><use href="#O" x="331" y="60"/><use href="#B" x="391" y="45"/><use href="#Y" x="421" y="30"/><use href="#B" x="451" y="45"/><use href="#Y" x="571" y="30"/><use href="#O" x="601" y="60"/><use href="#R" x="616" y="15"/><use href="#B" x="661" y="45"/><use href="#Y" x="691" y="30"/><use href="#G" x="721" y="0"/><use href="#O" x="751" y="60"/><use href="#O" x="811" y="60"/><use href="#B" x="871" y="45"/><use href="#Y" x="901" y="30"/><use href="#R" x="931" y="15"/>
<rect class="od" x="31" y="0" width="180" height="60"/>
<text class="n" x="31.5" y="-7">89</text><text class="n" x="271.5" y="-7">90</text><text class="n" x="511.5" y="-7">91</text><text class="n" x="751.5" y="-7">92</text>
<text class="a" x="270" y="75.5">135</text><text class="b" x="270" y="88.5">131848</text><text class="c" x="270" y="101.5">25.00%</text>
<text class="a" x="510" y="75.5">218</text><text class="b" x="510" y="88.5">133156</text><text class="c" x="510" y="101.5">25.00%</text>
<text class="a" x="750" y="75.5">216</text><text class="b" x="750" y="88.5">134452</text><text class="c" x="750" y="101.5">25.00%</text>
<text class="a" x="990" y="75.5">218</text><text class="b" x="990" y="88.5">135760</text><text class="c" x="990" y="101.5">25.00%</text>
</g>

<g id="row-93-96" transform="translate(0,3736)">
<use href="#st4"/>
<rect class="kG" x="31" y="-3.5" width="225" height="7"/><rect class="kO" x="271" y="56.5" width="45" height="7"/><rect class="kO" x="331" y="56.5" width="45" height="7"/><rect class="kB" x="631" y="41.5" width="45" height="7"/><rect class="kB" x="691" y="41.5" width="45" height="7"/><rect class="kO" x="751" y="56.5" width="45" height="7"/><rect class="kO" x="811" y="56.5" width="45" height="7"/>
<use href="#G" x="31" y="0"/><use href="#O" x="271" y="60"/><use href="#O" x="331" y="60"/><use href="#B" x="391" y="45"/><use href="#Y" x="421" y="30"/><use href="#B" x="451" y="45"/><use href="#Y" x="511" y="30"/><use href="#G" x="541" y="0"/><use href="#Y" x="571" y="30"/><use href="#G" x="601" y="0"/><use href="#B" x="631" y="45"/><use href="#B" x="691" y="45"/><use href="#sO" x="751" y="60"/><use href="#sO" x="811" y="60"/><use href="#sB" x="871" y="45"/><use href="#sY" x="901" y="30"/><use href="#sR" x="931" y="15"/>
<rect class="od" x="751" y="0" width="240" height="60"/>
<text class="n" x="31.5" y="-7">93</text><text class="n" x="271.5" y="-7">94</text><text class="n" x="511.5" y="-7">95</text><text class="n" x="751.5" y="-7">96</text>
<text class="a" x="270" y="75.5">130</text><text class="b" x="270" y="88.5">136540</text><text class="c" x="270" y="101.5">25.00%</text>
<text class="a" x="510" y="75.5">218</text><text class="b" x="510" y="88.5">137848</text><text class="c" x="510" y="101.5">25.00%</text>
<text class="a" x="750" y="75.5">254</text><text class="b" x="750" y="88.5">139372</text><text class="c" x="750" y="101.5">25.00%</text>
<text class="a" x="990" y="75.5">218</text><text class="b" x="990" y="88.5">140680</text><text class="c" x="990" y="101.5">25.00%</text>
</g>

<g id="row-97-100" transform="translate(0,3889)">
<use href="#st4"/>
<rect class="kB" x="46" y="41.5" width="150" height="7"/><rect class="kO" x="271" y="56.5" width="45" height="7"/><rect class="kO" x="331" y="56.5" width="45" height="7"/><rect class="kY" x="751" y="26.5" width="60" height="7"/>
<use href="#sB" x="46" y="45"/><use href="#sY" x="211" y="30"/><use href="#O" x="271" y="60"/><use href="#O" x="331" y="60"/><use href="#B" x="391" y="45"/><use href="#Y" x="421" y="30"/><use href="#B" x="451" y="45"/><use href="#Y" x="571" y="30"/><use href="#O" x="601" y="60"/><use href="#R" x="616" y="15"/><use href="#B" x="661" y="45"/><use href="#Y" x="691" y="30"/><use href="#G" x="721" y="0"/><use href="#Y" x="751" y="30"/><use href="#G" x="961" y="0"/>
<rect class="od" x="31" y="0" width="180" height="60"/>
<text class="n" x="31.5" y="-7">97</text><text class="n" x="271.5" y="-7">98</text><text class="n" x="511.5" y="-7">99</text><text class="n" x="751.5" y="-7">100</text>
<text class="a" x="270" y="75.5">135</text><text class="b" x="270" y="88.5">141490</text><text class="c" x="270" y="101.5">50.00%</text>
<text class="a" x="510" y="75.5">218</text><text class="b" x="510" y="88.5">142798</text><text class="c" x="510" y="101.5">50.00%</text>
<text class="a" x="750" y="75.5">216</text><text class="b" x="750" y="88.5">144094</text><text class="c" x="750" y="101.5">50.00%</text>
<text class="a" x="990" y="75.5">97</text><text class="b" x="990" y="88.5">144676</text><text class="c" x="990" y="101.5">50.00%</text>
</g>

<g id="row-101-104" transform="translate(0,4042)">
<use href="#st4"/>
<rect class="kY" x="31" y="26.5" width="60" height="7"/><rect class="kY" x="271" y="26.5" width="60" height="7"/><rect class="kY" x="511" y="26.5" width="45" height="7"/><rect class="kY" x="751" y="26.5" width="60" height="7"/>
<use href="#Y" x="31" y="30"/><use href="#G" x="241" y="0"/><use href="#Y" x="271" y="30"/><use href="#G" x="481" y="0"/><use href="#Y" x="511" y="30"/><use href="#sY" x="571" y="30"/><use href="#sO" x="601" y="60"/><use href="#sR" x="616" y="15"/><use href="#sB" x="661" y="45"/><use href="#sY" x="691" y="30"/><use href="#sG" x="721" y="0"/><use href="#sY" x="751" y="30"/><use href="#G" x="961" y="0"/>
<rect class="od" x="571" y="0" width="240" height="60"/>
<text class="n" x="31.5" y="-7">101</text><text class="n" x="271.5" y="-7">102</text><text class="n" x="511.5" y="-7">103</text><text class="n" x="751.5" y="-7">104</text>
<text class="a" x="270" y="75.5">97</text><text class="b" x="270" y="88.5">145258</text><text class="c" x="270" y="101.5">50.00%</text>
<text class="a" x="510" y="75.5">97</text><text class="b" x="510" y="88.5">145840</text><text class="c" x="510" y="101.5">50.00%</text>
<text class="a" x="750" y="75.5">271</text><text class="b" x="750" y="88.5">147466</text><text class="c" x="750" y="101.5">50.00%</text>
<text class="a" x="990" y="75.5">97</text><text class="b" x="990" y="88.5">148048</text><text class="c" x="990" y="101.5">75.00%</text>
</g>

<g id="row-105-108" transform="translate(0,4195)">
<use href="#st4"/>
<rect class="kY" x="31" y="26.5" width="60" height="7"/><rect class="kY" x="271" y="26.5" width="60" height="7"/><rect class="kY" x="511" y="26.5" width="45" height="7"/>
<use href="#Y" x="31" y="30"/><use href="#G" x="241" y="0"/><use href="#Y" x="271" y="30"/><use href="#G" x="481" y="0"/><use href="#Y" x="511" y="30"/><use href="#Y" x="571" y="30"/><use href="#O" x="601" y="60"/><use href="#R" x="616" y="15"/><use href="#B" x="661" y="45"/><use href="#Y" x="691" y="30"/><use href="#G" x="721" y="0"/><use href="#Y" x="751" y="30"/><use href="#Y" x="796" y="30"/><use href="#Y" x="841" y="30"/><use href="#Y" x="901" y="30"/><use href="#Y" x="916" y="30"/><use href="#Y" x="931" y="30"/><use href="#B" x="961" y="45"/>
<rect class="rd" x="901" y="0" width="14" height="60"/><rect class="so" x="915" y="0" width="76" height="60"/>
<text class="n" x="31.5" y="-7">105</text><text class="n" x="271.5" y="-7">106</text><text class="n" x="511.5" y="-7">107</text><text class="n" x="751.5" y="-7">108</text>
<text class="a" x="270" y="75.5">97</text><text class="b" x="270" y="88.5">148630</text><text class="c" x="270" y="101.5">75.00%</text>
<text class="a" x="510" y="75.5">97</text><text class="b" x="510" y="88.5">149212</text><text class="c" x="510" y="101.5">75.00%</text>
<text class="a" x="750" y="75.5">271</text><text class="b" x="750" y="88.5">150838</text><text class="c" x="750" y="101.5">75.00%</text>
<text class="a" x="990" y="75.5">252</text><text class="b" x="990" y="88.5">153214</text><text class="c" x="990" y="101.5">71.08%</text>
</g>

<g id="row-109-112" transform="translate(0,4348)">
<use href="#st4"/>
<use href="#Y" x="31" y="30"/><use href="#Y" x="76" y="30"/><use href="#Y" x="121" y="30"/><use href="#Y" x="151" y="30"/><use href="#B" x="181" y="45"/><use href="#O" x="211" y="60"/><use href="#O" x="241" y="60"/><use href="#O" x="256" y="60"/><use href="#Y" x="271" y="30"/><use href="#Y" x="316" y="30"/><use href="#Y" x="361" y="30"/><use href="#Y" x="421" y="30"/><use href="#Y" x="436" y="30"/><use href="#Y" x="451" y="30"/><use href="#B" x="481" y="45"/><use href="#Y" x="571" y="30"/><use href="#O" x="601" y="60"/><use href="#R" x="616" y="15"/><use href="#R" x="631" y="15"/><use href="#R" x="646" y="15"/><use href="#B" x="661" y="45"/><use href="#Y" x="691" y="30"/><use href="#Y" x="706" y="30"/><use href="#G" x="721" y="0"/><use href="#G" x="736" y="0"/><use href="#Y" x="751" y="30"/><use href="#Y" x="796" y="30"/><use href="#Y" x="841" y="30"/><use href="#Y" x="901" y="30"/><use href="#Y" x="916" y="30"/><use href="#Y" x="931" y="30"/><use href="#B" x="961" y="45"/>
<rect class="so" x="31" y="0" width="960" height="60"/>
<text class="n" x="31.5" y="-7">109</text><text class="n" x="271.5" y="-7">110</text><text class="n" x="511.5" y="-7">111</text><text class="n" x="751.5" y="-7">112</text>
<text class="a" x="270" y="75.5">288</text><text class="b" x="270" y="88.5">156670</text><text class="c" x="270" y="101.5">58.58%</text>
<text class="a" x="510" y="75.5">252</text><text class="b" x="510" y="88.5">159694</text><text class="c" x="510" y="101.5">46.08%</text>
<text class="a" x="750" y="75.5">360</text><text class="b" x="750" y="88.5">164014</text><text class="c" x="750" y="101.5">33.58%</text>
<text class="a" x="990" y="75.5">252</text><text class="b" x="990" y="88.5">167038</text><text class="c" x="990" y="101.5">21.08%</text>
</g>

<g id="row-113-116" transform="translate(0,4501)">
<use href="#st4"/>
<text class="t" x="511" y="-33">♩=150</text>
<rect class="kY" x="751" y="26.5" width="45" height="7"/><rect class="kR" x="811" y="11.5" width="120" height="7"/><rect class="kB" x="946" y="41.5" width="45" height="7"/>
<use href="#Y" x="31" y="30"/><use href="#Y" x="76" y="30"/><use href="#Y" x="121" y="30"/><use href="#Y" x="151" y="30"/><use href="#B" x="181" y="45"/><use href="#O" x="211" y="60"/><use href="#O" x="241" y="60"/><use href="#O" x="256" y="60"/><use href="#Y" x="271" y="30"/><use href="#Y" x="316" y="30"/><use href="#Y" x="361" y="30"/><use href="#Y" x="421" y="30"/><use href="#Y" x="436" y="30"/><use href="#Y" x="451" y="30"/><use href="#B" x="481" y="45"/><use href="#Y" x="571" y="30"/><use href="#O" x="601" y="60"/><use href="#R" x="616" y="15"/><use href="#B" x="661" y="45"/><use href="#Y" x="691" y="30"/><use href="#G" x="721" y="0"/><use href="#Y" x="751" y="30"/><use href="#R" x="811" y="15"/><use href="#B" x="946" y="45"/>
<rect class="so" x="31" y="0" width="405" height="60"/><rect class="rd" x="436" y="0" width="15" height="60"/>
<text class="n" x="31.5" y="-7">113</text><text class="n" x="271.5" y="-7">114</text><text class="n" x="511.5" y="-7">115</text><text class="n" x="751.5" y="-7">116</text>
<text class="a" x="270" y="75.5">288</text><text class="b" x="270" y="88.5">170494</text><text class="c" x="270" y="101.5">8.58%</text>
<text class="a" x="510" y="75.5">252</text><text class="b" x="510" y="88.5">173302</text><text class="c" x="510" y="101.5">0.00%</text>
<text class="a" x="750" y="75.5">216</text><text class="b" x="750" y="88.5">174598</text><text class="c" x="750" y="101.5">0.00%</text>
<text class="a" x="990" y="75.5">195</text><text class="b" x="990" y="88.5">175768</text><text class="c" x="990" y="101.5">0.00%</text>
</g>

<g id="row-117" transform="translate(0,4654)">
<use href="#ms" x="31"/><path d="M271 0V60" stroke="#000"/>
<rect class="kB" x="31" y="41.5" width="15" height="7"/>
<text class="n" x="31.5" y="-7">117</text>
<text class="a" x="270" y="75.5">7</text><text class="b" x="270" y="88.5">175810</text><text class="c" x="270" y="101.5">0.00%</text>
</g>
</g>
</svg>
